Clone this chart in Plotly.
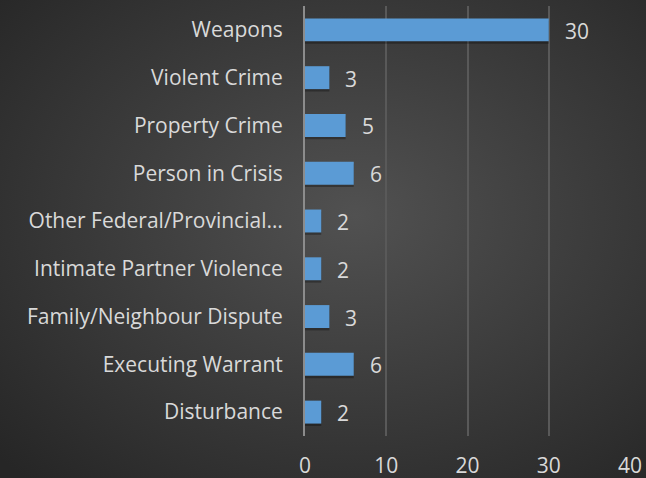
import base64
import plotly.graph_objects as go

# Call types, listed top to bottom as drawn
categories = [
    "Weapons",
    "Violent Crime",
    "Property Crime",
    "Person in Crisis",
    "Other Federal/Provincial…",
    "Intimate Partner Violence",
    "Family/Neighbour Dispute",
    "Executing Warrant",
    "Disturbance",
]
counts = [30, 3, 5, 6, 2, 2, 3, 6, 2]
x_ticks = [0, 10, 20, 30, 40]

W, H = 646, 478
L, R, T, B = 305, 16, 6, 42
PW, PH = W - L - R, H - T - B

FONT = "'Open Sans', Lato, sans-serif"
FS = 21
TEXT = "#d9d9d9"

# Dark radial-gradient backdrop
svg = f"""<svg xmlns='http://www.w3.org/2000/svg' width='{W}' height='{H}' viewBox='0 0 {W} {H}' preserveAspectRatio='none'>
<defs><radialGradient id='g' cx='0.55' cy='0.45' r='0.75'>
<stop offset='0' stop-color='#515151'/>
<stop offset='1' stop-color='#262626'/>
</radialGradient></defs>
<rect width='{W}' height='{H}' fill='url(#g)'/></svg>"""
bg_uri = "data:image/svg+xml;base64," + base64.b64encode(svg.encode()).decode()

fig = go.Figure()

# Soft drop shadow under each bar
fig.add_trace(go.Bar(
    x=counts, y=categories, orientation="h",
    marker=dict(color="rgba(0,0,0,0.3)", line=dict(width=0)),
    width=0.48, offset=-0.19, hoverinfo="skip", showlegend=False,
))

fig.add_trace(go.Bar(
    x=counts, y=categories, orientation="h",
    marker=dict(color="#5b9bd5", line=dict(width=0)),
    width=0.48, offset=-0.24, showlegend=False,
))

for c, v in zip(categories, counts):
    fig.add_annotation(
        x=v, y=c, text=str(v), showarrow=False,
        xanchor="left", xshift=14, yshift=-1,
        font=dict(family=FONT, size=FS, color=TEXT),
    )

fig.update_layout(
    width=W, height=H,
    margin=dict(l=L, r=R, t=T, b=B, pad=0),
    paper_bgcolor="#2b2b2b",
    plot_bgcolor="rgba(0,0,0,0)",
    barmode="overlay",
    font=dict(family=FONT, size=FS, color=TEXT),
    images=[dict(
        source=bg_uri, xref="paper", yref="paper",
        x=-L / PW, y=1 + T / PH, sizex=W / PW, sizey=H / PH,
        xanchor="left", yanchor="top", sizing="stretch", layer="below",
    )],
    xaxis=dict(
        range=[0, 40], tickvals=x_ticks, showgrid=True,
        gridcolor="#595959", gridwidth=1.5, zeroline=False,
        showline=False, ticks="outside", ticklen=0,
        ticklabelstandoff=11, tickfont=dict(size=FS, color=TEXT),
        fixedrange=True, automargin=False,
    ),
    yaxis=dict(
        autorange="reversed", showgrid=False, zeroline=False,
        showline=True, linecolor="#8c8c8c", linewidth=2,
        ticks="outside", ticklen=0, ticklabelstandoff=16,
        tickfont=dict(size=FS, color=TEXT), fixedrange=True,
        automargin=False,
    ),
)

fig.write_html("out.html")
